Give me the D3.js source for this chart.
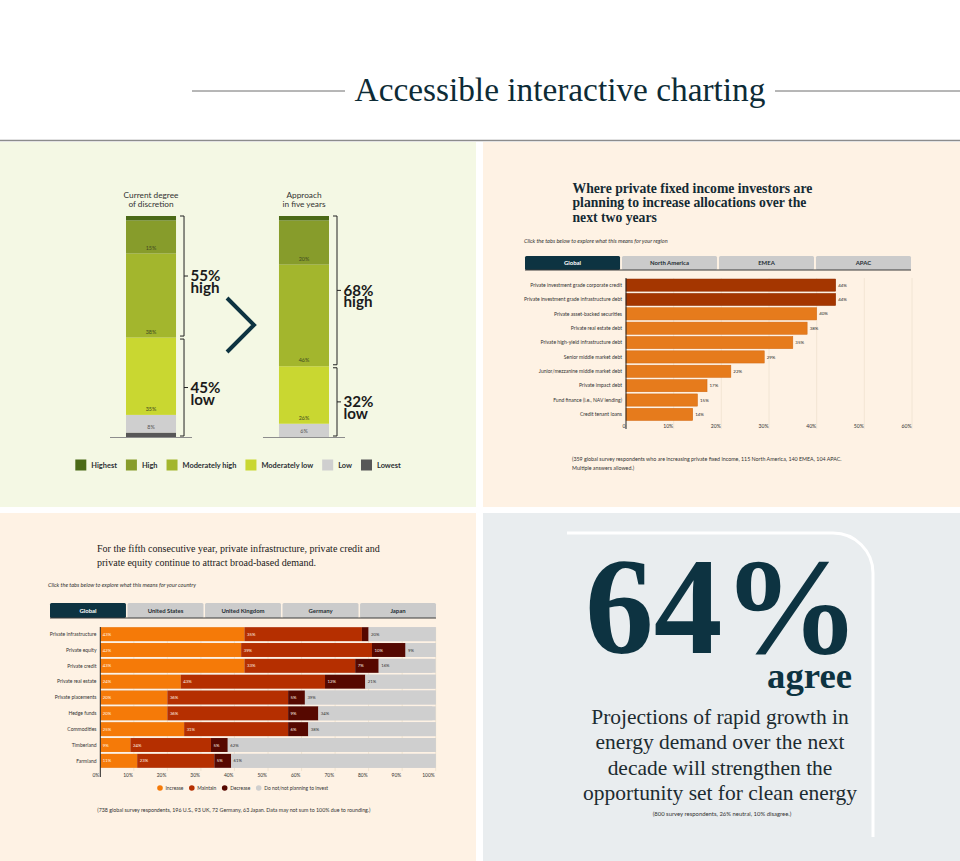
<!DOCTYPE html>
<html>
<head>
<meta charset="utf-8">
<script src="https://cdn.jsdelivr.net/npm/d3@7"></script>
<style>
  body { margin: 0; background: #fff; }
  svg { display: block; }
</style>
</head>
<body>
<div id="chart"></div>
<script>
// ---------- data ----------
const discretionLevels = ["Highest", "High", "Moderately high", "Moderately low", "Low", "Lowest"];
const currentDiscretion = [2, 15, 38, 35, 8, 2];
const fiveYearDiscretion = [2, 20, 46, 26, 6, 0];
const discretionBars = ["current", "five"];
const discretionTitles = [["Current degree", "of discretion"], ["Approach", "in five years"]];
const labelledLevels = ["High", "Moderately high", "Moderately low", "Low"];

const regionTabs = ["Global", "North America", "EMEA", "APAC"];
const fixedIncomeCategories = [
  "Private investment grade corporate credit",
  "Private investment grade infrastructure debt",
  "Private asset-backed securities",
  "Private real estate debt",
  "Private high-yield infrastructure debt",
  "Senior middle market debt",
  "Junior/mezzanine middle market debt",
  "Private impact debt",
  "Fund finance (i.e., NAV lending)",
  "Credit tenant loans"
];
const fixedIncomeValues = [44, 44, 40, 38, 35, 29, 22, 17, 15, 14];
const fixedIncomeTicks = [0, 10, 20, 30, 40, 50, 60];

const countryTabs = ["Global", "United States", "United Kingdom", "Germany", "Japan"];
const assetClasses = [
  "Private infrastructure", "Private equity", "Private credit", "Private real estate",
  "Private placements", "Hedge funds", "Commodities", "Timberland", "Farmland"
];
const demandSeries = ["Increase", "Maintain", "Decrease", "Do not/not planning to invest"];
const increaseValues = [43, 42, 43, 24, 20, 20, 25, 9, 11];
const maintainValues = [35, 39, 33, 43, 36, 36, 31, 24, 23];
const decreaseValues = [2, 10, 7, 12, 5, 9, 6, 5, 5];
const notInvestValues = [20, 9, 16, 21, 39, 34, 38, 62, 61];
const demandTicks = [0, 10, 20, 30, 40, 50, 60, 70, 80, 90, 100];

const agreeShare = 64;

// ---------- setup ----------
const W = 960, H = 861;
const SERIF = "'Liberation Serif', 'DejaVu Serif', serif";
const SANS = "Lato, 'Noto Sans', sans-serif";
const NAVY = "#0d3341";
const INK = "#262626";

const svg = d3.select("#chart").append("svg")
  .attr("width", W).attr("height", H)
  .attr("viewBox", `0 0 ${W} ${H}`);

// text measuring, used to size fonts to the widths seen in the picture
const probe = svg.append("text").attr("visibility", "hidden");
function widthOf(s, size, family, weight = "normal", style = "normal") {
  probe.attr("font-family", family).attr("font-size", size)
    .attr("font-weight", weight).attr("font-style", style).text(s);
  return probe.node().getComputedTextLength();
}
function fitSize(s, target, family, weight, style) {
  return 20 * target / widthOf(s, 20, family, weight, style);
}

function text(g, s, x, y, o = {}) {
  return g.append("text")
    .attr("x", x).attr("y", y)
    .attr("font-family", o.family || SANS)
    .attr("font-size", o.size || 6)
    .attr("font-weight", o.weight || "normal")
    .attr("font-style", o.style || "normal")
    .attr("text-anchor", o.anchor || "start")
    .attr("fill", o.fill || INK)
    .text(s);
}

// ---------- header & panels ----------
svg.append("rect").attr("width", W).attr("height", H).attr("fill", "#fff");

const headSize = fitSize("Accessible interactive charting", 411, SERIF);
text(svg, "Accessible interactive charting", 560, 101, { family: SERIF, size: headSize, anchor: "middle", fill: "#0d2b36" });
svg.append("line").attr("x1", 192).attr("x2", 345).attr("y1", 91).attr("y2", 91).attr("stroke", "#6f6f6f");
svg.append("line").attr("x1", 775).attr("x2", 960).attr("y1", 91).attr("y2", 91).attr("stroke", "#6f6f6f");
svg.append("line").attr("x1", 0).attr("x2", W).attr("y1", 140.5).attr("y2", 140.5).attr("stroke", "#8c8c8c").attr("stroke-width", 1.5);

const panels = [
  { x: 0, y: 142, w: 476, h: 365, fill: "#f4f8e4" },
  { x: 483, y: 142, w: 477, h: 365, fill: "#fef2e4" },
  { x: 0, y: 513, w: 476, h: 348, fill: "#fef2e4" },
  { x: 483, y: 513, w: 477, h: 348, fill: "#e9edef" }
];
svg.selectAll("rect.panel").data(panels).enter().append("rect")
  .attr("class", "panel")
  .attr("x", d => d.x).attr("y", d => d.y)
  .attr("width", d => d.w).attr("height", d => d.h)
  .attr("fill", d => d.fill);

// ---------- top left: discretion stacked bars ----------
const tl = svg.append("g");
const discColor = d3.scaleOrdinal()
  .domain(discretionLevels)
  .range(["#4b6a17", "#879c2b", "#a3b62d", "#c9d731", "#cfcfcf", "#575757"]);

const discRows = discretionBars.map((name, i) => {
  const vals = i === 0 ? currentDiscretion : fiveYearDiscretion;
  const row = { name };
  discretionLevels.forEach((k, j) => row[k] = vals[j]);
  return row;
});
const discStack = d3.stack().keys(discretionLevels.slice().reverse())(discRows);

const xDisc = d3.scaleBand().domain(discretionBars).range([126, 329]).paddingInner(0.673);
const yDisc = d3.scaleLinear().domain([0, 100]).range([437, 216]);

discStack.forEach(layer => {
  tl.selectAll(null).data(layer).enter().append("rect")
    .attr("x", d => xDisc(d.data.name))
    .attr("y", d => yDisc(d[1]))
    .attr("width", xDisc.bandwidth())
    .attr("height", d => yDisc(d[0]) - yDisc(d[1]))
    .attr("fill", discColor(layer.key));
  if (labelledLevels.includes(layer.key)) {
    tl.selectAll(null).data(layer).enter().append("text")
      .attr("x", d => xDisc(d.data.name) + xDisc.bandwidth() / 2)
      .attr("y", d => yDisc(d[0]) - 4)
      .attr("text-anchor", "middle")
      .attr("font-family", SANS).attr("font-size", 5.4)
      .attr("fill", layer.key === "Low" ? "#555" : "#3f4a22")
      .text(d => (d[1] - d[0]) + "%");
  }
});

// baselines
discretionBars.forEach(name => {
  tl.append("line")
    .attr("x1", xDisc(name) - 16).attr("x2", xDisc(name) + xDisc.bandwidth() + 16)
    .attr("y1", yDisc(0) + 0.5).attr("y2", yDisc(0) + 0.5)
    .attr("stroke", "#8d8d8d").attr("stroke-width", 1);
});

// column titles
const colTitleSize = fitSize("Current degree", 55, SANS);
discretionBars.forEach((name, i) => {
  discretionTitles[i].forEach((line, j) => {
    text(tl, line, xDisc(name) + xDisc.bandwidth() / 2, 198 + j * 8.6,
      { size: colTitleSize, anchor: "middle", fill: "#333" });
  });
});

// brackets with high / low totals
const bigSize = fitSize("55%", 30, SANS, "bold");
discretionBars.forEach((name, i) => {
  const vals = i === 0 ? currentDiscretion : fiveYearDiscretion;
  const high = d3.sum(vals.slice(0, 3));
  const low = d3.sum(vals.slice(3));
  const bx = xDisc(name) + xDisc.bandwidth() + 8;
  const groups = [
    { y1: yDisc(high + low), y2: yDisc(low) - 1.5, pct: high, word: "high" },
    { y1: yDisc(low) + 1.5, y2: yDisc(0) - 1, pct: low, word: "low" }
  ];
  groups.forEach(gr => {
    const mid = (gr.y1 + gr.y2) / 2;
    tl.append("path")
      .attr("d", `M${bx - 4},${gr.y1}H${bx}V${gr.y2}H${bx - 4}M${bx},${mid}H${bx + 4}`)
      .attr("fill", "none").attr("stroke", "#222").attr("stroke-width", 1);
    const t = tl.append("text")
      .attr("font-family", SANS).attr("font-size", bigSize).attr("font-weight", "bold")
      .attr("fill", "#1b1b1b");
    t.append("tspan").attr("x", bx + 6.5).attr("y", mid + 5.3).text(gr.pct + "%");
    t.append("tspan").attr("x", bx + 6.5).attr("y", mid + 17).text(gr.word);
  });
});

// chevron between the bars
const chevX = xDisc("current") + xDisc.bandwidth() + 51;
tl.append("path")
  .attr("d", `M${chevX},298L${chevX + 27},325L${chevX},352`)
  .attr("fill", "none").attr("stroke", NAVY).attr("stroke-width", 4);

// legend
const legSize = fitSize("Moderately high", 54, SANS, "bold");
const legendItems = discretionLevels.map(k => ({ key: k, w: widthOf(k, legSize, SANS, "bold") }));
const legTotal = d3.sum(legendItems, d => 11 + 5 + d.w) + 9 * (legendItems.length - 1);
let lx = 238 - legTotal / 2;
legendItems.forEach(d => {
  tl.append("rect").attr("x", lx).attr("y", 459.5).attr("width", 11).attr("height", 11)
    .attr("fill", discColor(d.key));
  text(tl, d.key, lx + 16, 467.5, { size: legSize, weight: "bold", fill: "#2b2f33" });
  lx += 11 + 5 + d.w + 9;
});

// ---------- shared: tabs ----------
function drawTabs(g, tabs, x0, x1, y, h, size) {
  const tx = d3.scaleBand().domain(tabs).range([x0, x1]).paddingInner(0.02);
  g.selectAll(null).data(tabs).enter().append("rect")
    .attr("x", d => tx(d)).attr("y", y)
    .attr("width", tx.bandwidth()).attr("height", h)
    .attr("rx", 1.5)
    .attr("fill", (d, i) => i === 0 ? NAVY : "#cbcbcb");
  g.selectAll(null).data(tabs).enter().append("text")
    .attr("x", d => tx(d) + tx.bandwidth() / 2)
    .attr("y", y + h / 2 + size * 0.36)
    .attr("text-anchor", "middle")
    .attr("font-family", SANS).attr("font-size", size).attr("font-weight", "bold")
    .attr("fill", (d, i) => i === 0 ? "#fff" : "#1f2d33")
    .text(d => d);
  g.append("line").attr("x1", x0).attr("x2", x1).attr("y1", y + h).attr("y2", y + h)
    .attr("stroke", "#3a3a3a").attr("stroke-width", 1);
}

// ---------- top right: fixed income bars ----------
const tr = svg.append("g");
const trTitle = ["Where private fixed income investors are", "planning to increase allocations over the", "next two years"];
const trTitleSize = fitSize(trTitle[0], 240, SERIF, "bold");
trTitle.forEach((line, i) => {
  text(tr, line, 572.5, 193 + i * 14.4, { family: SERIF, size: trTitleSize, weight: "bold", fill: "#142a33" });
});
const trSub = "Click the tabs below to explore what this means for your region";
text(tr, trSub, 524, 242.5, { size: fitSize(trSub, 144, SANS, "normal", "italic"), style: "italic", fill: "#333" });
drawTabs(tr, regionTabs, 525, 911, 256, 14, fitSize("North America", 39, SANS, "bold"));

const xFI = d3.scaleLinear().domain([0, 60]).range([626, 912]);
const yFI = d3.scaleBand().domain(fixedIncomeCategories).range([279, 420.5]).paddingInner(0.15);

tr.selectAll(null).data(fixedIncomeTicks.slice(1)).enter().append("line")
  .attr("x1", d => xFI(d)).attr("x2", d => xFI(d))
  .attr("y1", 278).attr("y2", 429)
  .attr("stroke", "#efe2cf").attr("stroke-width", 0.8);

tr.selectAll(null).data(fixedIncomeValues).enter().append("rect")
  .attr("x", xFI(0))
  .attr("y", (d, i) => yFI(fixedIncomeCategories[i]))
  .attr("width", d => xFI(d) - xFI(0))
  .attr("height", yFI.bandwidth())
  .attr("fill", (d, i) => i < 2 ? "#a43600" : "#e67b1c")
  .attr("stroke", (d, i) => i < 2 ? "#8e2e00" : "#d2670f")
  .attr("stroke-width", 0.5);

const fiValSize = fitSize("44%", 8.7, SANS);
tr.selectAll(null).data(fixedIncomeValues).enter().append("text")
  .attr("x", d => xFI(d) + 2.5)
  .attr("y", (d, i) => yFI(fixedIncomeCategories[i]) + yFI.bandwidth() / 2 + fiValSize * 0.36)
  .attr("font-family", SANS).attr("font-size", fiValSize).attr("fill", INK)
  .text(d => d + "%");

const fiCatSize = fitSize(fixedIncomeCategories[0], 92, SANS);
tr.selectAll(null).data(fixedIncomeCategories).enter().append("text")
  .attr("x", 622)
  .attr("y", d => yFI(d) + yFI.bandwidth() / 2 + fiCatSize * 0.36)
  .attr("text-anchor", "end")
  .attr("font-family", SANS).attr("font-size", fiCatSize).attr("fill", "#333")
  .text(d => d);

tr.append("line").attr("x1", xFI(0)).attr("x2", xFI(0)).attr("y1", 278).attr("y2", 429)
  .attr("stroke", "#222").attr("stroke-width", 1);

const fiTickSize = fitSize("10%", 10, SANS);
tr.selectAll(null).data(fixedIncomeTicks).enter().append("text")
  .attr("x", d => xFI(d) - 0.5).attr("y", 428)
  .attr("text-anchor", "end")
  .attr("font-family", SANS).attr("font-size", fiTickSize).attr("fill", "#333")
  .text(d => d === 0 ? "0" : d + "%");

const trNote = ["(359 global survey respondents who are increasing private fixed income, 115 North America, 140 EMEA, 104 APAC.", "Multiple answers allowed.)"];
const trNoteSize = fitSize(trNote[0], 270, SANS);
trNote.forEach((line, i) => text(tr, line, 572, 461 + i * 9.2, { size: trNoteSize, fill: "#333" }));

// ---------- bottom left: demand stacked bars ----------
const bl = svg.append("g");
const blTitle = ["For the fifth consecutive year, private infrastructure, private credit and", "private equity continue to attract broad-based demand."];
const blTitleSize = fitSize(blTitle[0], 283, SERIF);
blTitle.forEach((line, i) => text(bl, line, 97, 551.5 + i * 14, { family: SERIF, size: blTitleSize, fill: "#1a1a1a" }));
const blSub = "Click the tabs below to explore what this means for your country";
text(bl, blSub, 48, 587, { size: fitSize(blSub, 148, SANS, "normal", "italic"), style: "italic", fill: "#333" });
drawTabs(bl, countryTabs, 50, 436, 603, 15, fitSize("United Kingdom", 43.3, SANS, "bold"));

const demandColor = d3.scaleOrdinal().domain(demandSeries)
  .range(["#f57a08", "#b52f00", "#560800", "#cfcfcf"]);
const demandRows = assetClasses.map((name, i) => ({
  name,
  [demandSeries[0]]: increaseValues[i],
  [demandSeries[1]]: maintainValues[i],
  [demandSeries[2]]: decreaseValues[i],
  [demandSeries[3]]: notInvestValues[i]
}));
const demandStack = d3.stack().keys(demandSeries)(demandRows);

const xDem = d3.scaleLinear().domain([0, 100]).range([100.3, 435.7]);
const yDem = d3.scaleBand().domain(assetClasses).range([627.2, 767.8]).paddingInner(0.12);

bl.selectAll(null).data(demandTicks.slice(1)).enter().append("line")
  .attr("x1", d => xDem(d)).attr("x2", d => xDem(d))
  .attr("y1", 627).attr("y2", 771)
  .attr("stroke", "#ecdfcc").attr("stroke-width", 0.8);

// full-width track behind each row (rounded totals may fall short of 100%)
bl.selectAll(null).data(assetClasses).enter().append("rect")
  .attr("x", xDem(0)).attr("y", d => yDem(d))
  .attr("width", xDem(100) - xDem(0)).attr("height", yDem.bandwidth())
  .attr("fill", demandColor(demandSeries[3]));

const demValSize = fitSize("43%", 8.4, SANS);
demandStack.forEach((layer, li) => {
  bl.selectAll(null).data(layer).enter().append("rect")
    .attr("x", d => xDem(d[0]))
    .attr("y", d => yDem(d.data.name))
    .attr("width", d => xDem(d[1]) - xDem(d[0]))
    .attr("height", yDem.bandwidth())
    .attr("fill", demandColor(layer.key));
  bl.selectAll(null).data(layer.filter(d => d[1] - d[0] >= 5)).enter().append("text")
    .attr("x", d => xDem(d[0]) + 2.5)
    .attr("y", d => yDem(d.data.name) + yDem.bandwidth() / 2 + demValSize * 0.36)
    .attr("font-family", SANS).attr("font-size", demValSize)
    .attr("fill", li < 3 ? "#fff3e6" : "#333")
    .text(d => (d[1] - d[0]) + "%");
});

const demCatSize = fitSize(assetClasses[0], 46.7, SANS);
bl.selectAll(null).data(assetClasses).enter().append("text")
  .attr("x", 96.5)
  .attr("y", d => yDem(d) + yDem.bandwidth() / 2 + demCatSize * 0.36)
  .attr("text-anchor", "end")
  .attr("font-family", SANS).attr("font-size", demCatSize).attr("fill", "#333")
  .text(d => d);

bl.append("line").attr("x1", xDem(0)).attr("x2", xDem(0)).attr("y1", 627).attr("y2", 777)
  .attr("stroke", "#222").attr("stroke-width", 1);

const demTickSize = fitSize("10%", 9.6, SANS);
bl.selectAll(null).data(demandTicks).enter().append("text")
  .attr("x", d => xDem(d) - 1).attr("y", 776.5)
  .attr("text-anchor", "end")
  .attr("font-family", SANS).attr("font-size", demTickSize).attr("fill", "#333")
  .text(d => d + "%");

// legend
const demLegSize = fitSize(demandSeries[3], 64, SANS);
let dx = 160;
demandSeries.forEach(k => {
  bl.append("circle").attr("cx", dx).attr("cy", 788).attr("r", 2.8).attr("fill", demandColor(k));
  text(bl, k, dx + 5.5, 788 + demLegSize * 0.36, { size: demLegSize, fill: "#333" });
  dx += 5.5 + widthOf(k, demLegSize, SANS) + 8.4;
});

const blNote = "(738 global survey respondents, 196 U.S., 93 UK, 72 Germany, 63 Japan. Data may not sum to 100% due to rounding.)";
text(bl, blNote, 97.3, 811.5, { size: fitSize(blNote, 274, SANS), fill: "#333" });

// ---------- bottom right: headline stat ----------
const br = svg.append("g");
br.append("path")
  .attr("d", "M567,533H833A40,40 0 0 1 873,573V837")
  .attr("fill", "none").attr("stroke", "#fff").attr("stroke-width", 3);

const statLabel = agreeShare + "%";
const stat = br.append("text")
  .attr("font-family", SERIF).attr("font-weight", "bold").attr("fill", NAVY);
stat.append("tspan")
  .attr("x", 722.5).attr("y", 653).attr("text-anchor", "middle")
  .attr("font-size", fitSize(statLabel, 275, SERIF, "bold"))
  .text(statLabel);
stat.append("tspan")
  .attr("x", 852).attr("y", 688).attr("text-anchor", "end")
  .attr("font-size", fitSize("agree", 85, SERIF, "bold"))
  .text("agree");

const brLines = ["Projections of rapid growth in", "energy demand over the next", "decade will strengthen the", "opportunity set for clean energy"];
const brSize = fitSize(brLines[3], 274, SERIF);
brLines.forEach((line, i) => text(br, line, 720, 724 + i * 25.3, { family: SERIF, size: brSize, anchor: "middle", fill: "#1c2b30" }));

const brNote = "(800 survey respondents, 26% neutral, 10% disagree.)";
text(br, brNote, 722, 816, { size: fitSize(brNote, 138.7, SANS), anchor: "middle", fill: "#333" });

probe.remove();
</script>
</body>
</html>
